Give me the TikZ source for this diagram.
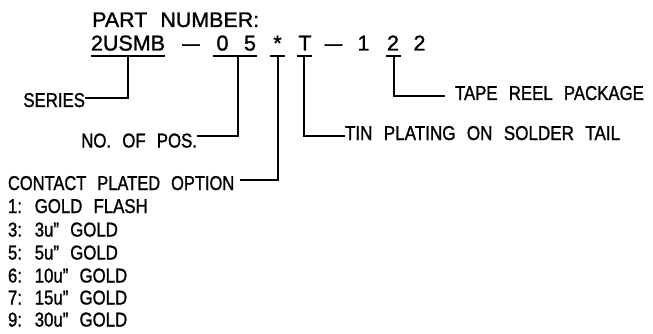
\documentclass[tikz,border=0pt]{standalone}
\usepackage{fontspec}
\setmainfont{Liberation Sans}
\newfontfamily\cadT[FakeStretch=1.02,WordSpace=2.2,FakeBold=1.2]{Liberation Sans}
\newfontfamily\cadP[FakeBold=1.2]{Liberation Sans}
\newfontfamily\cadB[FakeStretch=0.84,WordSpace=2.4,FakeBold=1.2]{Liberation Sans}
\begin{document}
\begin{tikzpicture}[x=1pt,y=-1pt,
  lbl/.style={inner sep=0pt,outer sep=0pt,anchor=base west,font=\cadB\fontsize{20}{24}\selectfont},
  pn/.style={inner sep=0pt,outer sep=0pt,anchor=base,font=\cadP\fontsize{21.5}{24}\selectfont},
  ln/.style={line width=1.2pt,black}]
\useasboundingbox (0,0) rectangle (653,334);
% header
\node[inner sep=0pt,anchor=base west,font=\cadT\fontsize{21}{24}\selectfont] (hdr) at (92,27) {PART NUMBER:};
% part number characters
\node[pn,anchor=base west] (series) at (91,50.5) {2USMB};
\node[pn] (d1) at (191,50.5) {\scalebox{1.45}[1]{–}};
\node[pn] (c0) at (222.5,50.5) {0};
\node[pn] (c5) at (250,50.5) {5};
\node[pn] (ast) at (277.5,50.5) {*};
\node[pn] (tt) at (305,50.5) {T};
\node[pn] (d2) at (333.5,50.5) {\scalebox{1.45}[1]{–}};
\node[pn] (c1) at (363.5,50.5) {1};
\node[pn] (c2a) at (393,50.5) {2};
\node[pn] (c2b) at (419.5,50.5) {2};
% underlines
\coordinate (u1a) at (91,56);  \coordinate (u1b) at (165,56);
\coordinate (u2a) at (213,56); \coordinate (u2b) at (257,56);
\coordinate (u3a) at (270,56); \coordinate (u3b) at (285,56);
\coordinate (u4a) at (297,56); \coordinate (u4b) at (312,56);
\coordinate (u5a) at (386,56); \coordinate (u5b) at (401,56);
\draw[ln] (u1a) -- (u1b);
\draw[ln] (u2a) -- (u2b);
\draw[ln] (u3a) -- (u3b);
\draw[ln] (u4a) -- (u4b);
\draw[ln] (u5a) -- (u5b);
% labels
\node[lbl,anchor=base east] (lser) at (85,107) {SERIES};
\node[lbl,anchor=base east] (lpos) at (197,147.5) {NO. OF POS.};
\node[lbl] (lcon) at (8,190) {\scalebox{0.98}[1]{CONTACT PLATED OPTION}};
\node[lbl] (ltin) at (345,140) {\scalebox{1.015}[1]{TIN PLATING ON SOLDER TAIL}};
\node[lbl] (ltap) at (455,100) {TAPE REEL PACKAGE};
% leaders
\draw[ln] (128,56) |- (lser.east |- 0,98);
\draw[ln] (238,56) |- (lpos.east |- 0,136);
\draw[ln] (278,56) |- (240,180);
\draw[ln] (304,56) |- (ltin.west |- 0,136);
\draw[ln] (394,56) |- (445,96);
% option list
\node[lbl] (o1) at (8,213) {1: GOLD FLASH};
\node[lbl] (o3) at (8,236.5) {3: 3u” GOLD};
\node[lbl] (o5) at (8,259.5) {5: 5u” GOLD};
\node[lbl] (o6) at (8,282.5) {6: 10u” GOLD};
\node[lbl] (o7) at (8,304.5) {7: 15u” GOLD};
\node[lbl] (o9) at (8,326.5) {9: 30u” GOLD};
\end{tikzpicture}
\end{document}
